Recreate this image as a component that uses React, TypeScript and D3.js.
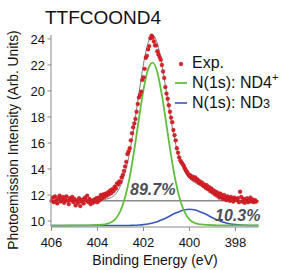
import React from 'react';
import * as d3 from 'd3';

const W = 283;
const H = 270;

const titleText = 'TTFCOOND4';
const xLabel = 'Binding Energy (eV)';
const yLabel = 'Photoemission Intensity (Arb. Units)';
const xTicks = [406, 404, 402, 400, 398];
const yTicks = [10, 12, 14, 16, 18, 20, 22, 24];
const pctND4 = '89.7%';
const pctND3 = '10.3%';
const backgroundLevel = 11.56;

// experimental points [binding energy (eV), intensity]
const expData: [number, number][] = [
  [406.0, 11.55], [405.95, 11.8], [405.9, 11.45], [405.85, 11.9], [405.8, 11.6], [405.75, 11.35],
  [405.7, 11.75], [405.65, 11.95], [405.6, 11.5], [405.55, 11.7], [405.5, 11.85], [405.45, 11.4],
  [405.4, 11.65], [405.35, 11.9], [405.3, 11.55], [405.25, 11.3], [405.2, 11.75], [405.15, 11.6],
  [405.1, 11.85], [405.05, 11.45], [405.0, 11.7], [404.95, 11.2], [404.9, 11.55], [404.85, 11.4],
  [404.8, 11.75], [404.75, 11.15], [404.7, 11.5], [404.65, 11.65], [404.6, 11.35], [404.55, 11.8],
  [404.5, 11.6], [404.45, 11.95], [404.4, 11.45], [404.35, 11.7], [404.3, 11.3], [404.25, 11.55],
  [404.2, 11.4], [404.15, 11.65], [404.1, 11.5], [404.05, 11.75], [404.0, 11.45], [403.95, 11.8],
  [403.9, 11.6], [403.85, 12.0], [403.8, 11.75], [403.75, 12.05], [403.7, 11.85], [403.65, 12.1],
  [403.6, 11.95], [403.55, 12.2], [403.5, 12.05], [403.45, 12.35], [403.4, 12.15], [403.35, 12.45],
  [403.3, 12.3], [403.25, 12.65], [403.2, 12.5], [403.15, 12.9], [403.1, 12.8], [403.05, 13.05],
  [403.0, 13.0], [402.95, 13.35], [402.9, 13.55], [402.85, 13.85], [402.8, 14.2], [402.75, 14.55],
  [402.7, 15.15], [402.65, 15.35], [402.6, 15.6], [402.55, 16.2], [402.5, 16.75], [402.45, 17.2],
  [402.4, 17.5], [402.35, 17.85], [402.3, 18.4], [402.25, 19.0], [402.2, 19.5], [402.15, 19.7],
  [402.1, 19.95], [402.05, 20.85], [402.0, 21.05], [401.95, 21.7], [401.9, 22.55], [401.85, 22.7],
  [401.8, 23.2], [401.75, 23.45], [401.7, 24.05], [401.65, 24.25], [401.6, 24.1], [401.55, 23.8],
  [401.5, 23.5], [401.45, 23.5], [401.4, 23.05], [401.35, 22.8], [401.3, 22.6], [401.25, 22.4],
  [401.2, 22.0], [401.15, 21.5], [401.1, 21.0], [401.05, 20.3], [401.0, 19.8], [400.95, 19.4],
  [400.9, 18.9], [400.85, 18.4], [400.8, 17.95], [400.75, 17.6], [400.7, 17.0], [400.65, 16.6],
  [400.6, 16.2], [400.55, 15.6], [400.5, 15.25], [400.45, 14.9], [400.4, 14.65], [400.35, 14.5],
  [400.3, 14.4], [400.25, 14.25], [400.2, 14.05], [400.15, 13.9], [400.1, 13.75], [400.05, 13.6],
  [400.0, 13.45], [399.95, 13.5], [399.9, 13.3], [399.85, 13.4], [399.8, 13.2], [399.75, 13.35],
  [399.7, 13.1], [399.65, 13.2], [399.6, 12.95], [399.55, 13.05], [399.5, 12.85], [399.45, 12.95],
  [399.4, 12.7], [399.35, 12.8], [399.3, 12.55], [399.25, 12.75], [399.2, 12.45], [399.15, 12.6],
  [399.1, 12.3], [399.05, 12.5], [399.0, 12.2], [398.95, 12.35], [398.9, 12.05], [398.85, 12.25],
  [398.8, 11.95], [398.75, 12.15], [398.7, 11.8], [398.65, 12.1], [398.6, 11.85], [398.55, 11.7],
  [398.5, 12.0], [398.45, 11.75], [398.4, 11.6], [398.35, 11.9], [398.3, 11.7], [398.25, 11.55],
  [398.2, 11.85], [398.15, 11.65], [398.1, 11.5], [398.05, 11.8], [398.0, 11.65], [397.95, 11.6],
  [397.9, 11.75], [397.85, 11.45], [397.8, 12.25], [397.75, 11.85], [397.7, 11.5], [397.65, 11.7],
  [397.6, 11.4], [397.55, 11.6], [397.5, 11.75], [397.45, 11.45], [397.4, 11.55], [397.35, 11.8],
  [397.3, 11.5], [397.25, 11.65], [397.2, 11.45], [397.15, 11.6], [397.1, 11.5],
];

// fitted curves, sampled at these energies
const fitEnergy = [
  406, 405.5, 405, 404.5, 404, 403.8, 403.6, 403.4, 403.2, 403.0, 402.8, 402.6, 402.4, 402.2,
  402.0, 401.8, 401.6, 401.4, 401.2, 401.0, 400.8, 400.6, 400.4, 400.2, 400.0, 399.8, 399.6,
  399.4, 399.2, 399.0, 398.8, 398.6, 398.4, 398.0, 397.6, 397.2, 397.0,
];
const fitEnvelope = [
  11.56, 11.56, 11.57, 11.58, 11.61, 11.63, 11.69, 11.81, 12.1, 12.7, 13.73, 15.3, 17.4, 19.8,
  22.08, 23.71, 24.29, 23.65, 22.03, 19.88, 17.72, 15.9, 14.59, 13.76, 13.27, 12.99, 12.79,
  12.59, 12.4, 12.19, 12.02, 11.87, 11.77, 11.64, 11.58, 11.57, 11.56,
];
const fitND4 = [
  9.65, 9.65, 9.66, 9.67, 9.7, 9.72, 9.78, 9.9, 10.19, 10.79, 11.82, 13.38, 15.47, 17.85,
  20.1, 21.68, 22.18, 21.44, 19.68, 17.37, 15.02, 13.03, 11.57, 10.64, 10.11, 9.87, 9.77,
  9.72, 9.7, 9.68, 9.67, 9.66, 9.66, 9.66, 9.66, 9.66, 9.66,
];
const fitND3 = [
  9.65, 9.65, 9.65, 9.65, 9.65, 9.65, 9.65, 9.65, 9.65, 9.65, 9.65, 9.66, 9.67, 9.69,
  9.72, 9.77, 9.85, 9.95, 10.09, 10.25, 10.44, 10.61, 10.76, 10.86, 10.9, 10.86, 10.76,
  10.61, 10.44, 10.25, 10.09, 9.95, 9.85, 9.72, 9.67, 9.65, 9.65,
];

const FONT = '"Liberation Sans", Arial, Helvetica, sans-serif';
const AXIS = '#8a8a8a';
const RED = '#dc2128';
const GREEN = '#62bd3c';
const BLUE = '#3a58b5';
const GRAY = '#7d7d7d';
const PCT = '#4a4e55';

export default function App() {
  const x = d3.scaleLinear().domain([406, 397]).range([51.5, 258.5]);
  const y = d3.scaleLinear().domain([9.54, 24.3]).range([227, 35]);

  const line = d3
    .line<[number, number]>()
    .x((d) => x(d[0]))
    .y((d) => y(d[1]))
    .curve(d3.curveMonotoneX);

  const toPts = (vals: number[]) => fitEnergy.map((e, i) => [e, vals[i]] as [number, number]);

  const x0 = x.range()[0] - 0.5;
  const yBottom = y.range()[0];
  const yTop = y.range()[1];

  return (
    <svg
      width={W}
      height={H}
      viewBox={`0 0 ${W} ${H}`}
      style={{ position: 'fixed', left: 0, top: 0, background: '#fff' }}
      fontFamily={FONT}
    >
      <rect width={W} height={H} fill="#fff" />
      <text x={45} y={24.3} fontSize={19} fill="#111">
        {titleText}
      </text>

      {/* background level */}
      <line
        x1={x(406)}
        x2={x(397)}
        y1={y(backgroundLevel)}
        y2={y(backgroundLevel)}
        stroke="#8c8c8c"
        strokeWidth={1.6}
      />

      <path d={line(toPts(fitND3)) || ''} fill="none" stroke={BLUE} strokeWidth={1.6} />
      <path d={line(toPts(fitND4)) || ''} fill="none" stroke={GREEN} strokeWidth={1.8} />
      <path d={line(toPts(fitEnvelope)) || ''} fill="none" stroke={GRAY} strokeWidth={1} />

      {expData.map((d, i) => (
        <circle key={i} cx={x(d[0])} cy={y(d[1])} r={1.9} fill={RED} stroke="#a8121a" strokeWidth={0.4} />
      ))}

      {/* axes */}
      <line x1={x0} x2={x0} y1={yTop} y2={yBottom} stroke={AXIS} strokeWidth={1} />
      <line x1={x0} x2={x(397)} y1={yBottom} y2={yBottom} stroke={AXIS} strokeWidth={1} />
      {yTicks.map((t) => (
        <g key={t}>
          <line x1={x0 - 3.5} x2={x0} y1={y(t)} y2={y(t)} stroke={AXIS} strokeWidth={1} />
          <text x={45} y={y(t)} dy="0.36em" textAnchor="end" fontSize={13} fill="#111">
            {t}
          </text>
        </g>
      ))}
      {xTicks.map((t) => (
        <g key={t}>
          <line x1={x(t)} x2={x(t)} y1={yBottom} y2={yBottom + 4} stroke={AXIS} strokeWidth={1} />
          <text x={x(t)} y={246.7} textAnchor="middle" fontSize={13} fill="#111">
            {t}
          </text>
        </g>
      ))}
      <text x={155} y={265} textAnchor="middle" fontSize={14} fill="#111">
        {xLabel}
      </text>
      <text
        transform={`translate(18,140) rotate(-90)`}
        textAnchor="middle"
        fontSize={13.8}
        fill="#111"
      >
        {yLabel}
      </text>

      {/* percentages */}
      <text x={130} y={195} fontSize={16} fontWeight="bold" fontStyle="italic" fill={PCT}>
        {pctND4}
      </text>
      <text x={215} y={220.7} fontSize={16} fontWeight="bold" fontStyle="italic" fill={PCT}>
        {pctND3}
      </text>

      {/* legend */}
      <circle cx={181} cy={64} r={1.9} fill={RED} stroke="#a8121a" strokeWidth={0.4} />
      <text x={192} y={68.3} fontSize={16} fill="#111">
        Exp.
      </text>
      <line x1={175} x2={187} y1={83} y2={83} stroke={GREEN} strokeWidth={1.8} />
      <text x={192} y={88.3} fontSize={16} fill="#111">
        N(1s): ND4
        <tspan fontSize={11} dy={-7}>+</tspan>
      </text>
      <line x1={175} x2={187} y1={103} y2={103} stroke={BLUE} strokeWidth={1.6} />
      <text x={192} y={108.3} fontSize={16} fill="#111">
        N(1s): ND<tspan fontSize={12.5}>3</tspan>
      </text>
    </svg>
  );
}
